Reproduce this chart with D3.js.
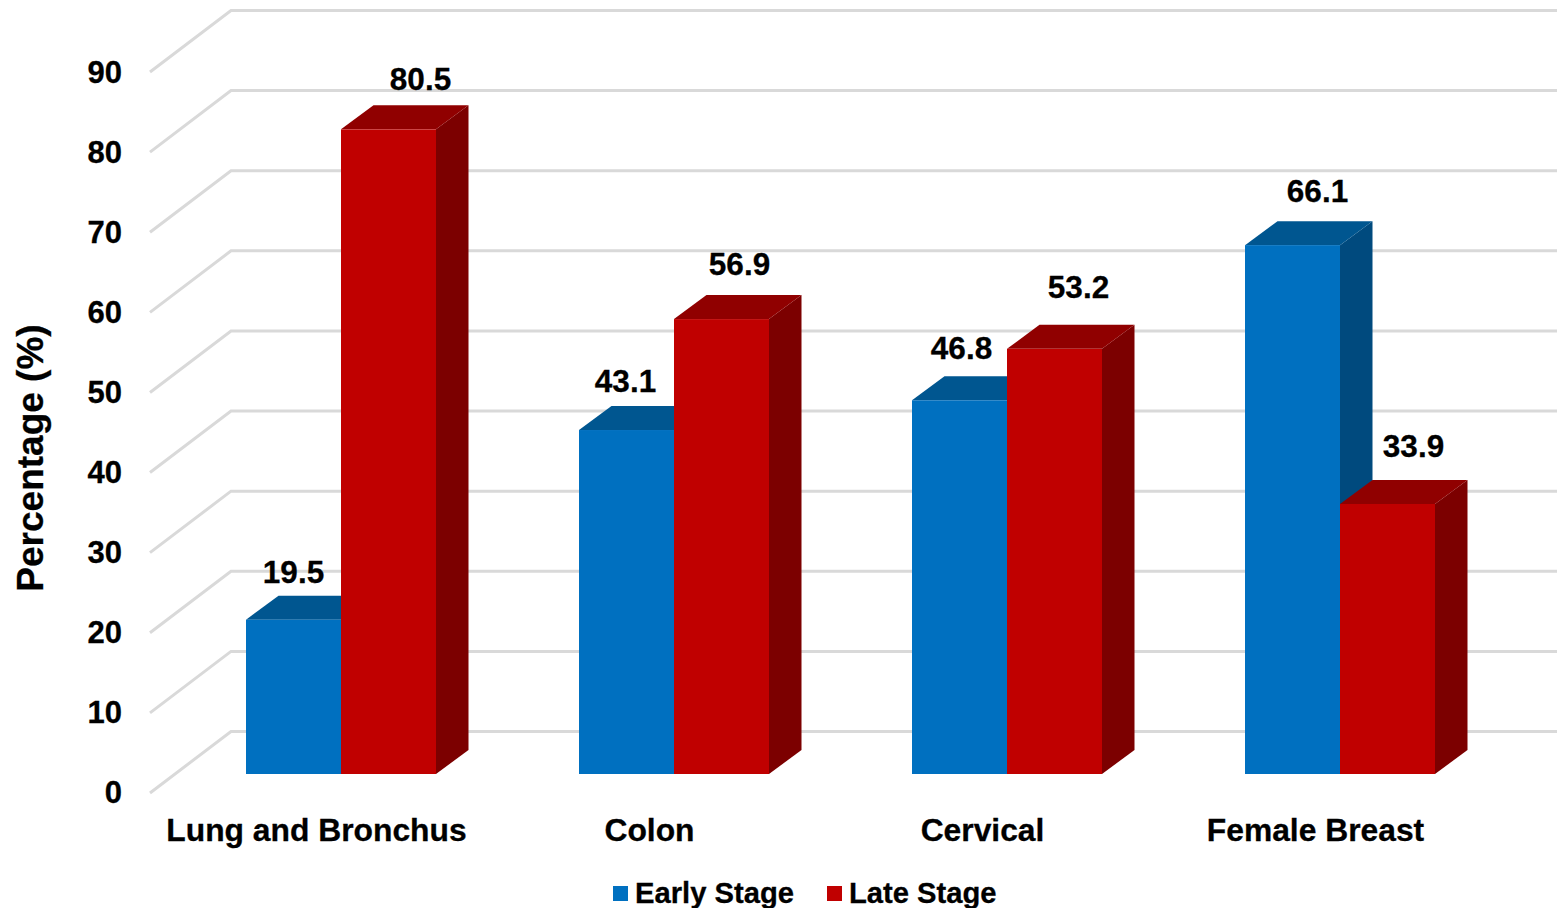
<!DOCTYPE html>
<html>
<head>
<title>Early and late stage percentage</title>
<script src="https://d3js.org/d3.v7.min.js"></script>
<style>
  html, body { margin: 0; padding: 0; background: #fff; overflow: hidden; }
  text { font-family: "Liberation Sans", Arial, sans-serif; font-weight: bold; fill: #000; stroke: #000; stroke-width: 0.3px; }
</style>
</head>
<body>
<svg id="chart" width="1557" height="908"></svg>
<script type="text/javascript">
  const categories = ["Lung and Bronchus", "Colon", "Cervical", "Female Breast"];
  const seriesNames = ["Early Stage", "Late Stage"];
  const earlyStage = [19.5, 43.1, 46.8, 66.1];
  const lateStage = [80.5, 56.9, 53.2, 33.9];
  const yTicks = [0, 10, 20, 30, 40, 50, 60, 70, 80, 90];

  const frontColors = ["#0070c0", "#c00000"];
  const topColors = ["#005690", "#900000"];
  const sideColors = ["#004a7e", "#7c0000"];

  // the 3d box offset used by excel, bars and walls differ
  const barDepth = { x: 32.5, y: -24 };
  const wallDepth = { x: 81, y: -61.5 };
  const barBase = 774;

  const svg = d3.select("#chart");

  const x = d3.scaleBand().domain(categories).range([150, 1482]);
  const barX = d3.scaleBand().domain(seriesNames).range([96, 286]);
  const yFloor = d3.scaleLinear().domain([0, 90]).range([793, 72]);
  const yLabel = d3.scaleLinear().domain([0, 90]).range([793, 73]);
  const yBar = d3.scaleLinear().domain([0, 90]).range([776.5, 53]);

  // gridlines: left wall + back wall
  svg.append("g").selectAll("path")
    .data(yTicks)
    .join("path")
    .attr("fill", "none")
    .attr("stroke", "#d9d9d9")
    .attr("stroke-width", 3)
    .attr("d", d => {
      const p = d3.path();
      p.moveTo(150, yFloor(d));
      p.lineTo(150 + wallDepth.x, yFloor(d) + wallDepth.y);
      p.lineTo(1557, yFloor(d) + wallDepth.y);
      return p.toString();
    });

  // tick labels
  const axis = d3.axisLeft(yLabel).tickValues(yTicks).tickSize(0).tickPadding(0);
  const axisG = svg.append("g")
    .attr("transform", "translate(122,0)")
    .call(axis);
  axisG.select(".domain").remove();
  axisG.selectAll("text")
    .attr("font-size", 31)
    .style("font-family", "'Liberation Sans', Arial, sans-serif")
    .style("font-weight", "bold");

  // bars
  const bars = [];
  categories.forEach((c, i) => {
    bars.push({ cat: c, s: 0, v: earlyStage[i], i: i });
    bars.push({ cat: c, s: 1, v: lateStage[i], i: i });
  });

  const barG = svg.append("g").selectAll("g")
    .data(bars)
    .join("g");

  const barLeft = d => x(d.cat) + barX(seriesNames[d.s]);
  const barRight = d => barLeft(d) + barX.bandwidth();

  barG.append("polygon")
    .attr("fill", d => sideColors[d.s])
    .attr("points", d => [
      [barRight(d), yBar(d.v)],
      [barRight(d) + barDepth.x, yBar(d.v) + barDepth.y],
      [barRight(d) + barDepth.x, barBase + barDepth.y],
      [barRight(d), barBase]
    ].join(" "));

  barG.append("polygon")
    .attr("fill", d => topColors[d.s])
    .attr("points", d => [
      [barLeft(d), yBar(d.v)],
      [barLeft(d) + barDepth.x, yBar(d.v) + barDepth.y],
      [barRight(d) + barDepth.x, yBar(d.v) + barDepth.y],
      [barRight(d), yBar(d.v)]
    ].join(" "));

  barG.append("rect")
    .attr("x", barLeft)
    .attr("y", d => yBar(d.v))
    .attr("width", barX.bandwidth())
    .attr("height", d => barBase - yBar(d.v))
    .attr("fill", d => frontColors[d.s]);

  // data labels sit a bit off the bars, nudged by hand like in the original
  const labelDx = [[0, 32], [-1, 18], [2, 24], [25, 26]];
  const labelDy = [[-37, -39], [-38, -44], [-41, -51], [-43, -47]];

  svg.append("g").selectAll("text")
    .data(bars)
    .join("text")
    .attr("text-anchor", "middle")
    .attr("font-size", 31.5)
    .attr("x", d => (barLeft(d) + barRight(d)) / 2 + labelDx[d.i][d.s])
    .attr("y", d => yBar(d.v) + labelDy[d.i][d.s])
    .text(d => d.v.toFixed(1));

  // category labels
  svg.append("g").selectAll("text")
    .data(categories)
    .join("text")
    .attr("text-anchor", "middle")
    .attr("font-size", 31.8)
    .attr("x", d => x(d) + x.bandwidth() / 2)
    .attr("y", 841)
    .text(d => d);

  // y title
  svg.append("text")
    .attr("transform", "translate(43,458) rotate(-90)")
    .attr("text-anchor", "middle")
    .attr("font-size", 37)
    .text("Percentage (%)");

  // legend
  const legendX = [613, 827];
  const legend = svg.append("g").selectAll("g")
    .data(seriesNames)
    .join("g")
    .attr("transform", (d, i) => `translate(${legendX[i]},886)`);
  legend.append("rect")
    .attr("width", 15)
    .attr("height", 15)
    .attr("fill", (d, i) => frontColors[i]);
  legend.append("text")
    .attr("x", 22)
    .attr("y", 17)
    .attr("font-size", 29.2)
    .text(d => d);
</script>
</body>
</html>
